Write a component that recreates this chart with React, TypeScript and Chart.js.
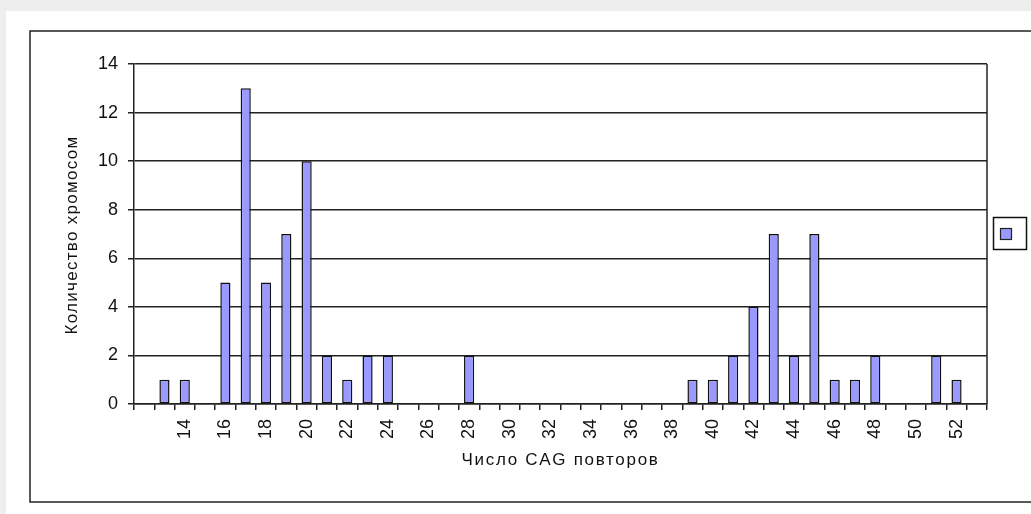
import React, { useEffect, useRef } from "react";
import { Chart, registerables } from "chart.js";

Chart.register(...registerables);

// CAG repeat number (categories) and chromosome counts
const categories: string[] = [
  "12", "13", "14", "15", "16", "17", "18", "19", "20", "21", "22", "23", "24", "25",
  "26", "27", "28", "29", "30", "31", "32", "33", "34", "35", "36", "37", "38", "39",
  "40", "41", "42", "43", "44", "45", "46", "47", "48", "49", "50", "51", "52", "53",
];
const counts: number[] = [
  0, 1, 1, 0, 5, 13, 5, 7, 10, 2, 1, 2, 2, 0,
  0, 0, 2, 0, 0, 0, 0, 0, 0, 0, 0, 0, 0, 1,
  1, 2, 4, 7, 2, 7, 1, 1, 2, 0, 0, 2, 1, 0,
];
const shownTickLabels: string[] = [
  "14", "16", "18", "20", "22", "24", "26", "28", "30", "32", "34", "36", "38", "40",
  "42", "44", "46", "48", "50", "52",
];
const xTitle = "Число CAG повторов";
const yTitle = "Количество хромосом";

const FONT = "'Liberation Sans', Arial, sans-serif";
const BAR_FILL = "#9999ff";
const TEXT = "#111111";

const framePlugin = {
  id: "frame",
  beforeDraw(chart: any) {
    const ctx = chart.ctx;
    ctx.save();
    ctx.fillStyle = "#eeeeee";
    ctx.fillRect(0, 0, chart.width, chart.height);
    ctx.fillStyle = "#ffffff";
    ctx.fillRect(6, 11, chart.width - 6, chart.height - 11);
    ctx.strokeStyle = "#222222";
    ctx.lineWidth = 1.5;
    ctx.strokeRect(30, 31, chart.width + 10, 471);
    ctx.restore();
  },
  afterDraw(chart: any) {
    const ctx = chart.ctx;
    const a = chart.chartArea;
    ctx.save();
    ctx.strokeStyle = "#222222";
    ctx.lineWidth = 1.5;
    ctx.beginPath();
    ctx.moveTo(a.right, a.top);
    ctx.lineTo(a.right, a.bottom);
    ctx.stroke();

    // axis titles (wide GDI-like letter spacing)
    ctx.fillStyle = TEXT;
    ctx.font = `17px ${FONT}`;
    ctx.textBaseline = "alphabetic";
    ctx.textAlign = "left";
    (ctx as any).letterSpacing = "1.7px";
    const xw = ctx.measureText(xTitle).width;
    ctx.fillText(xTitle, (a.left + a.right) / 2 - xw / 2, 465);
    (ctx as any).letterSpacing = "1.3px";
    const yw = ctx.measureText(yTitle).width;
    ctx.save();
    ctx.translate(77, (a.top + a.bottom) / 2 + 1);
    ctx.rotate(-Math.PI / 2);
    ctx.fillText(yTitle, -yw / 2, 0);
    ctx.restore();
    (ctx as any).letterSpacing = "0px";

    // legend box (series without a name)
    ctx.lineWidth = 1.5;
    ctx.strokeStyle = "#111111";
    ctx.strokeRect(993.5, 217.5, 33, 32);
    ctx.fillStyle = BAR_FILL;
    ctx.fillRect(1000, 228, 12, 12);
    ctx.lineWidth = 1.2;
    ctx.strokeStyle = "#222222";
    ctx.strokeRect(1000.5, 228.5, 11, 11);
    ctx.restore();
  },
};

export default function App() {
  const ref = useRef<HTMLCanvasElement | null>(null);

  useEffect(() => {
    if (!ref.current) return;
    const chart = new Chart(ref.current, {
      type: "bar",
      data: {
        labels: categories,
        datasets: [
          {
            label: "",
            data: counts,
            backgroundColor: BAR_FILL,
            borderColor: "#111111",
            borderWidth: 1.5,
            borderSkipped: false,
            barPercentage: 0.5,
            categoryPercentage: 1.0,
          },
        ],
      },
      options: {
        responsive: false,
        animation: false,
        devicePixelRatio: 1,
        layout: { padding: { left: 57, top: 64, right: 44, bottom: 41 } },
        plugins: {
          legend: { display: false },
          tooltip: { enabled: false },
        },
        scales: {
          x: {
            type: "category",
            offset: true,
            grid: {
              offset: true,
              drawOnChartArea: false,
              drawTicks: true,
              tickLength: 6,
              color: "#222222",
              lineWidth: 1.5,
            },
            border: { display: true, color: "#222222", width: 1.5 },
            ticks: {
              autoSkip: false,
              maxRotation: 90,
              minRotation: 90,
              padding: 9,
              color: TEXT,
              font: { family: FONT, size: 18 },
              callback: function (this: any, value: any) {
                const lab = categories[value as number];
                return shownTickLabels.includes(lab) ? lab : "";
              },
            },
            title: { display: false, text: xTitle },
            afterFit: (s: any) => {
              s.height = 69;
            },
          },
          y: {
            min: 0,
            max: 14,
            ticks: {
              stepSize: 2,
              padding: 10,
              color: TEXT,
              font: { family: FONT, size: 18 },
            },
            grid: {
              color: "#222222",
              lineWidth: 1.5,
              tickLength: 6,
            },
            border: { display: true, color: "#222222", width: 1.5 },
            title: { display: false, text: yTitle },
            afterFit: (s: any) => {
              s.width = 77;
            },
          },
        },
      },
      plugins: [framePlugin],
    });
    return () => chart.destroy();
  }, []);

  return (
    <div style={{ position: "fixed", left: 0, top: 0, width: 1031, height: 514 }}>
      <canvas ref={ref} width={1031} height={514} style={{ display: "block", width: 1031, height: 514 }} />
    </div>
  );
}
